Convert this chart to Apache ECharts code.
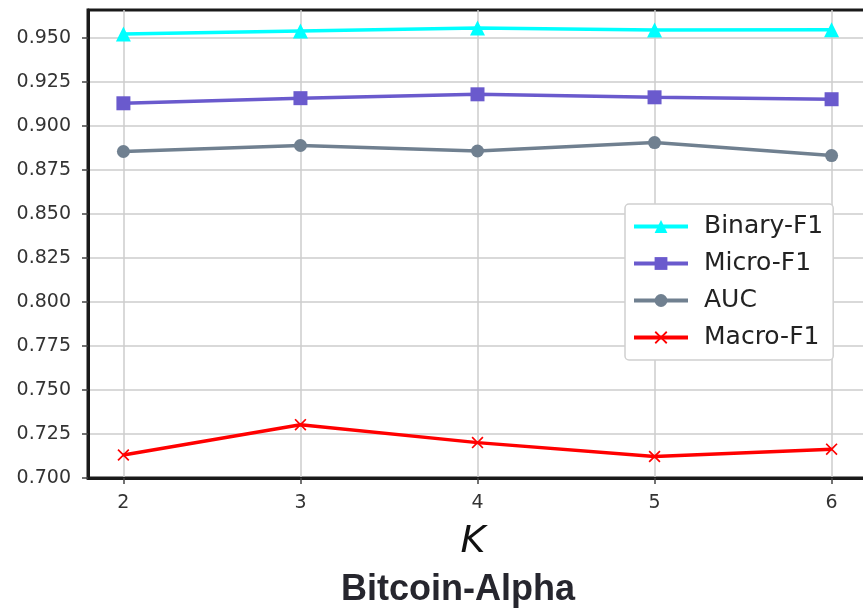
<!DOCTYPE html>
<html>
<head>
<meta charset="utf-8">
<script src="https://cdn.jsdelivr.net/npm/echarts@6/dist/echarts.min.js"></script>
<style>
  html, body { margin: 0; padding: 0; background: #fff; }
  #chart { width: 863px; height: 609px; }
</style>
</head>
<body>
<div id="chart"></div>
<script>
// Neighbourhood size K on the x axis
const kValues = [2, 3, 4, 5, 6];
// Scores per metric for each K
const binaryF1 = [0.9523, 0.9540, 0.9557, 0.9546, 0.9547];
const microF1  = [0.9129, 0.9158, 0.9180, 0.9163, 0.9152];
const auc      = [0.8855, 0.8889, 0.8858, 0.8906, 0.8832];
const macroF1  = [0.7131, 0.7303, 0.7201, 0.7122, 0.7164];
// Y axis tick labels
const yTicks = [0.700, 0.725, 0.750, 0.775, 0.800, 0.825, 0.850, 0.875, 0.900, 0.925, 0.950];

const crossPath = 'path://M0,1L1,0L5,4L9,0L10,1L6,5L10,9L9,10L5,6L1,10L0,9L4,5Z';

function pairs(vals) {
  return kValues.map((k, i) => [k, vals[i]]);
}

function lineSeries(name, vals, color, symbol, size) {
  return {
    name: name,
    type: 'line',
    data: pairs(vals),
    symbol: symbol,
    symbolSize: size,
    showAllSymbol: true,
    lineStyle: { color: color, width: 3.5 },
    itemStyle: { color: color, borderWidth: 0 },
    emphasis: { disabled: true },
    animation: false
  };
}

const chart = echarts.init(document.getElementById('chart'), null, { renderer: 'canvas' });

chart.setOption({
  backgroundColor: '#ffffff',
  animation: false,
  grid: {
    left: 88, top: 10, width: 779, height: 468,
    outerBoundsMode: 'none',
    containLabel: false,
    show: true,
    borderColor: '#1a1a1a',
    borderWidth: 3,
    backgroundColor: 'transparent'
  },
  xAxis: {
    type: 'value',
    min: 1.8,
    max: 6.2,
    axisLine: { show: true, onZero: false, lineStyle: { color: '#1a1a1a', width: 3 } },
    axisTick: { show: true, customValues: kValues, length: 6, lineStyle: { color: '#444', width: 1.5 } },
    axisLabel: {
      customValues: kValues,
      margin: 16,
      color: '#333',
      fontFamily: 'DejaVu Sans',
      fontSize: 19
    },
    splitLine: { show: true, lineStyle: { color: '#cccccc', width: 1.5 } }
  },
  yAxis: {
    type: 'value',
    min: 0.7,
    max: 0.9659,
    axisLine: { show: true, onZero: false, lineStyle: { color: '#1a1a1a', width: 3 } },
    axisTick: { show: true, customValues: yTicks, length: 6, lineStyle: { color: '#444', width: 1.5 } },
    axisLabel: {
      customValues: yTicks,
      margin: 17,
      color: '#333',
      fontFamily: 'DejaVu Sans',
      fontSize: 19,
      formatter: v => v.toFixed(3)
    },
    splitLine: { show: true, lineStyle: { color: '#cccccc', width: 1.5 } }
  },
  legend: {
    orient: 'vertical',
    left: 625,
    top: 204,
    padding: [10, 10, 10, 7],
    backgroundColor: '#ffffff',
    borderColor: '#d0d0d0',
    borderWidth: 1.5,
    borderRadius: 4,
    itemWidth: 54,
    itemHeight: 16,
    itemGap: 12,
    lineStyle: { width: 4 },
    textStyle: { fontFamily: 'DejaVu Sans', fontSize: 25, color: '#222', lineHeight: 25, padding: [0, 0, 0, 11] },
    data: ['Binary-F1', 'Micro-F1', 'AUC', 'Macro-F1']
  },
  graphic: [
    {
      type: 'text',
      x: 473,
      y: 542,
      style: {
        text: 'K', fontFamily: 'DejaVu Sans', fontStyle: 'italic', fontSize: 38, fill: '#111',
        align: 'center', verticalAlign: 'middle'
      }
    },
    {
      type: 'text',
      x: 458,
      y: 590,
      style: {
        text: 'Bitcoin-Alpha', fontFamily: 'Liberation Sans', fontWeight: 'bold', fontSize: 36, fill: '#26262e',
        align: 'center', verticalAlign: 'middle'
      }
    }
  ],
  series: [
    lineSeries('Binary-F1', binaryF1, '#00ffff', 'triangle', 15),
    lineSeries('Micro-F1', microF1, '#6a5acd', 'rect', 14),
    lineSeries('AUC', auc, '#708090', 'circle', 13),
    lineSeries('Macro-F1', macroF1, '#ff0000', crossPath, 12)
  ]
});
</script>
</body>
</html>
